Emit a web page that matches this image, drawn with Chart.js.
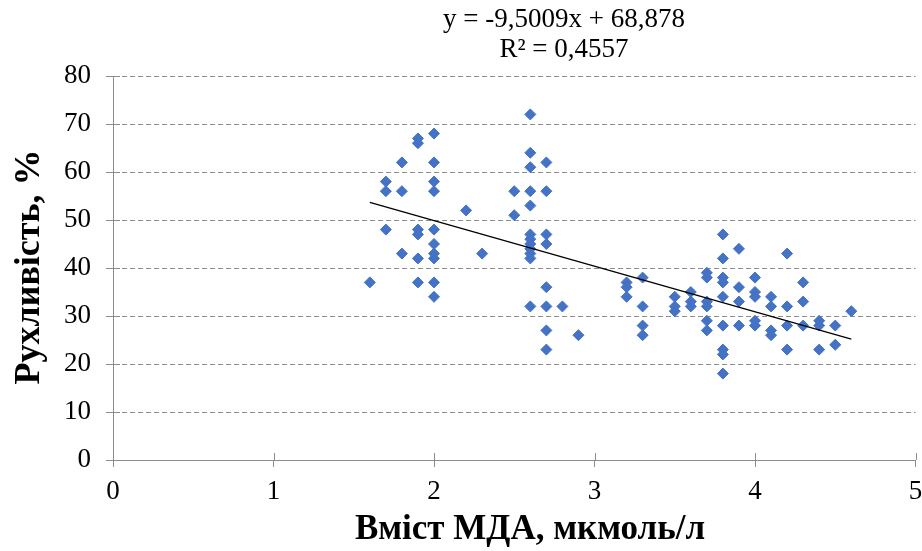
<!DOCTYPE html>
<html>
<head>
<meta charset="utf-8">
<script src="https://cdn.jsdelivr.net/npm/chart.js@4"></script>
<style>
html,body{margin:0;padding:0;background:#fff;}
#wrap{width:922px;height:551px;}
</style>
</head>
<body>
<div id="wrap"><canvas id="c" width="922" height="551"></canvas></div>
<script>
// Data
const mdaX = [
  1.6,
  1.7,1.7,1.7,
  1.8,1.8,1.8,
  1.9,1.9,1.9,1.9,1.9,1.9,
  2.0,2.0,2.0,2.0,2.0,2.0,2.0,2.0,2.0,2.0,
  2.2,
  2.3,
  2.5,2.5,
  2.6,2.6,2.6,2.6,2.6,2.6,2.6,2.6,2.6,2.6,2.6,2.6,
  2.7,2.7,2.7,2.7,2.7,2.7,2.7,2.7,
  2.8,
  2.9,
  3.2,3.2,3.2,
  3.3,3.3,3.3,3.3,
  3.5,3.5,3.5,
  3.6,3.6,3.6,
  3.7,3.7,3.7,3.7,3.7,3.7,
  3.8,3.8,3.8,3.8,3.8,3.8,3.8,3.8,3.8,
  3.9,3.9,3.9,3.9,
  4.0,4.0,4.0,4.0,4.0,
  4.1,4.1,4.1,4.1,
  4.2,4.2,4.2,4.2,
  4.3,4.3,4.3,
  4.4,4.4,4.4,
  4.5,4.5,
  4.6
];
const motilityY = [
  37,
  58,56,48,
  62,56,43,
  67,66,48,47,42,37,
  68,62,58,56,48,45,43,42,37,34,
  52,
  43,
  56,51,
  72,64,61,56,53,47,46,45,44,43,42,32,
  62,56,47,45,36,32,27,23,
  32,
  26,
  37,36,34,
  38,32,28,26,
  34,32,31,
  35,33,32,
  39,38,33,32,29,27,
  47,42,38,37,34,28,23,22,18,
  44,36,33,28,
  38,35,34,29,28,
  34,32,27,26,
  43,32,28,23,
  37,33,28,
  29,28,23,
  28,24,
  31
];
const xTicks = [0,1,2,3,4,5];
const yTicks = [0,10,20,30,40,50,60,70,80];
const trendSlope = -9.5009;
const trendIntercept = 68.878;
const equationLines = ["y = -9,5009x + 68,878", "R² = 0,4557"];
const xTitle = "Вміст МДА, мкмоль/л";
const yTitle = "Рухливість, %";

const points = mdaX.map((x, i) => ({x: x, y: motilityY[i]}));
const xMin = Math.min(...mdaX), xMax = Math.max(...mdaX);
const trend = [xMin, xMax].map(x => ({x: x, y: trendSlope * x + trendIntercept}));

const SERIF = "'Liberation Serif','Times New Roman',serif";
const GRID = '#8c8c8c';

const extraPlugin = {
  id: 'extra',
  afterDraw(chart) {
    const ctx = chart.ctx;
    const xs = chart.scales.x, ys = chart.scales.y;
    ctx.save();
    // inner halves of the crossing tick marks
    ctx.strokeStyle = GRID; ctx.lineWidth = 1;
    ctx.beginPath();
    xTicks.forEach(v => {
      const px = Math.round(xs.getPixelForValue(v)) + 0.5;
      ctx.moveTo(px, ys.bottom); ctx.lineTo(px, ys.bottom - 7);
    });
    yTicks.forEach(v => {
      const py = Math.round(ys.getPixelForValue(v)) + 0.5;
      ctx.moveTo(xs.left, py); ctx.lineTo(xs.left + 7, py);
    });
    ctx.stroke();
    ctx.fillStyle = '#000';
    ctx.textAlign = 'center';
    ctx.textBaseline = 'middle';
    ctx.font = "27px " + SERIF;
    ctx.fillText(equationLines[0], 564, 20);
    ctx.fillText(equationLines[1], 564, 50);
    ctx.font = "bold 35px " + SERIF;
    ctx.fillText(xTitle, 530, 530);
    ctx.font = "bold 36px " + SERIF;
    ctx.translate(30, 267);
    ctx.rotate(-Math.PI / 2);
    ctx.fillText(yTitle, 0, 0);
    ctx.restore();
  }
};

new Chart(document.getElementById('c'), {
  type: 'scatter',
  data: {
    datasets: [
      {
        type: 'line',
        data: trend,
        borderColor: '#000',
        borderWidth: 1.3,
        pointRadius: 0,
        fill: false,
        showLine: true
      },
      {
        data: points,
        pointStyle: 'rectRot',
        pointRadius: 5.5,
        pointHoverRadius: 5.5,
        backgroundColor: '#4472C4',
        borderColor: '#4472C4',
        borderWidth: 1
      }
    ]
  },
  options: {
    responsive: false,
    animation: false,
    events: [],
    layout: { padding: { top: 76, right: 5, left: 0, bottom: 0 } },
    plugins: { legend: { display: false }, tooltip: { enabled: false }, title: { display: false } },
    scales: {
      x: {
        type: 'linear',
        min: 0, max: 5,
        afterFit: s => { s.height = 91; s.paddingLeft = 0; s.paddingRight = 0; },
        afterBuildTicks: s => { s.ticks = xTicks.map(v => ({value: v})); },
        ticks: { font: { family: SERIF, size: 27 }, color: '#000', padding: 9, maxRotation: 0, autoSkip: false },
        grid: { drawOnChartArea: false, drawTicks: true, tickLength: 7, tickColor: GRID, tickWidth: 1 },
        border: { display: true, color: GRID, width: 1 }
      },
      y: {
        type: 'linear',
        min: 0, max: 80,
        afterFit: s => { s.width = 113; s.paddingTop = 0; s.paddingBottom = 0; },
        afterBuildTicks: s => { s.ticks = yTicks.map(v => ({value: v})); },
        ticks: { font: { family: SERIF, size: 27 }, color: '#000', padding: 15, autoSkip: false },
        grid: { drawOnChartArea: true, color: GRID, lineWidth: 1, drawTicks: true, tickLength: 7, tickColor: GRID, tickWidth: 1 },
        border: { display: true, color: GRID, width: 1, dash: [5, 3] }
      }
    }
  },
  plugins: [extraPlugin]
});
</script>
</body>
</html>
